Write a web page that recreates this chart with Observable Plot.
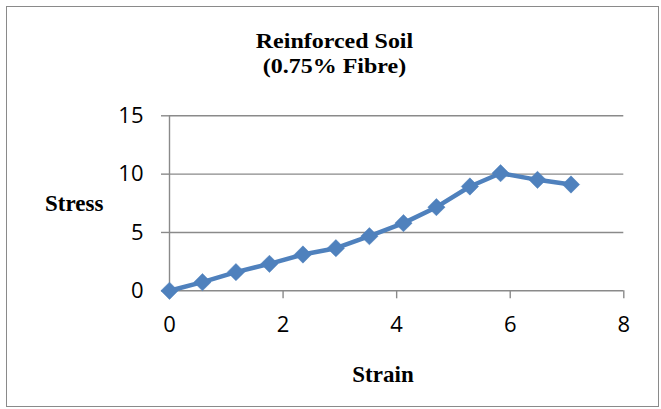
<!DOCTYPE html>
<html>
<head>
<meta charset="utf-8">
<script src="https://cdn.jsdelivr.net/npm/d3@7"></script>
<script src="https://cdn.jsdelivr.net/npm/@observablehq/plot@0.6"></script>
<style>
  html, body { margin: 0; padding: 0; background: #fff; }
  #wrap { position: relative; width: 661px; height: 409px; overflow: hidden; }
  #frame { position: absolute; left: 6px; top: 6px; width: 653px; height: 401px; box-sizing: border-box; border: 1.5px solid #8a8a8a; pointer-events: none; }
  .lbl { position: absolute; font-family: "Liberation Serif", "Times New Roman", serif; font-weight: bold; color: #000; white-space: nowrap; }
  #title { left: 0; width: 669px; top: 28px; text-align: center; font-size: 22px; line-height: 25px; transform: scaleX(1.09); transform-origin: 334.5px 0; }
  #ylab { left: 45px; top: 190px; font-size: 23px; line-height: 28px; }
  #xlab { left: 333px; width: 100px; text-align: center; top: 361px; font-size: 23px; line-height: 28px; }
  svg { position: absolute; left: 0; top: 0; }
</style>
</head>
<body>
<div id="wrap">
  <div id="frame"></div>
  <div id="title" class="lbl">Reinforced Soil<br>(0.75% Fibre)</div>
  <div id="ylab" class="lbl">Stress</div>
  <div id="xlab" class="lbl">Strain</div>
</div>
<script>
const titleLines = ["Reinforced Soil", "(0.75% Fibre)"];
const xLabel = "Strain";
const yLabel = "Stress";
const strain = [0, 0.58, 1.17, 1.76, 2.35, 2.93, 3.52, 4.12, 4.70, 5.29, 5.83, 6.48, 7.07];
const stress = [0, 0.74, 1.60, 2.31, 3.11, 3.65, 4.68, 5.80, 7.17, 8.94, 10.08, 9.51, 9.11];
const xTicks = [0, 2, 4, 6, 8];
const yTicks = [0, 5, 10, 15];

const data = strain.map((s, i) => ({strain: s, stress: stress[i]}));
const gray = "#8a8a8a";
const blue = "#4f81bd";

const chart = Plot.plot({
  width: 661,
  height: 409,
  marginLeft: 169,
  marginRight: 37.7,
  marginTop: 115.3,
  marginBottom: 118.7,
  style: {fontFamily: "'Open Sans', sans-serif", fontSize: "22px", color: "#000", background: "transparent", overflow: "visible"},
  x: {domain: [0, 8]},
  y: {domain: [0, 15]},
  marks: [
    Plot.gridY(yTicks, {stroke: gray, strokeOpacity: 1, strokeWidth: 1.4}),
    Plot.ruleX([0], {stroke: gray, strokeWidth: 1.4}),
    Plot.axisY(yTicks, {tickSize: 8, tickPadding: 18, stroke: gray, strokeWidth: 1.4, fill: "#000", label: null, tickFormat: d => String(d)}),
    Plot.axisX(xTicks, {tickSize: 8, tickPadding: 18, stroke: gray, strokeWidth: 1.4, fill: "#000", label: null, tickFormat: d => String(d)}),
    Plot.line(data, {x: "strain", y: "stress", stroke: blue, strokeWidth: 4.5}),
    Plot.dot(data, {x: "strain", y: "stress", symbol: "diamond2", r: 7.8, fill: blue, stroke: blue, strokeWidth: 0.5})
  ]
});
document.getElementById("wrap").appendChild(chart);
document.getElementById("title").innerHTML = titleLines.join("<br>");
document.getElementById("xlab").textContent = xLabel;
document.getElementById("ylab").textContent = yLabel;
</script>
</body>
</html>
